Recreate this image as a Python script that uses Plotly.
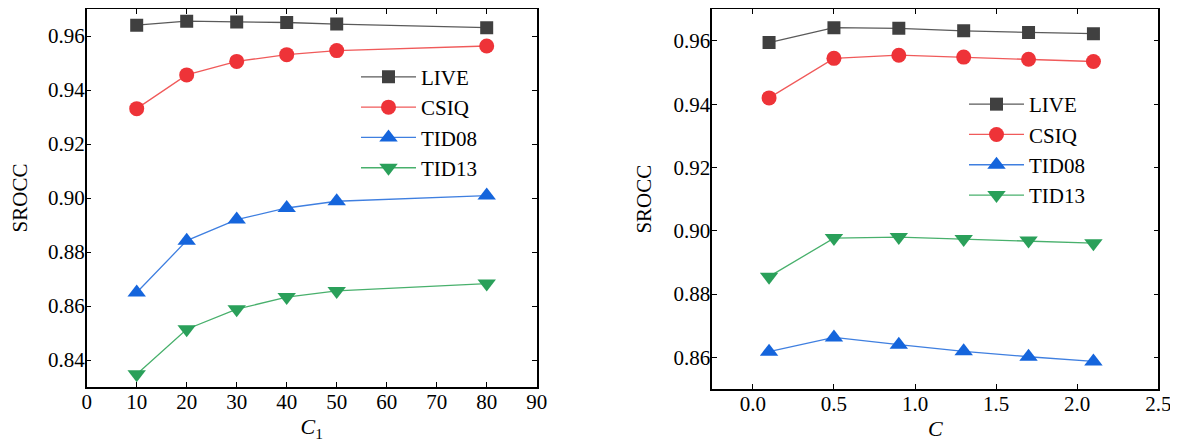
import plotly.graph_objects as go

# ---- data ----
series_names = ["LIVE", "CSIQ", "TID08", "TID13"]

c1_values = [10, 20, 30, 40, 50, 80]
left_live = [0.9640, 0.9655, 0.9652, 0.9650, 0.9644, 0.9631]
left_csiq = [0.9331, 0.9456, 0.9506, 0.9531, 0.9546, 0.9563]
left_tid08 = [0.8650, 0.8842, 0.8920, 0.8963, 0.8988, 0.9009]
left_tid13 = [0.8347, 0.8514, 0.8588, 0.8633, 0.8656, 0.8683]

c_values = [0.1, 0.5, 0.9, 1.3, 1.7, 2.1]
right_live = [0.9595, 0.9642, 0.9640, 0.9632, 0.9627, 0.9623]
right_csiq = [0.9420, 0.9545, 0.9555, 0.9549, 0.9542, 0.9535]
right_tid08 = [0.8618, 0.8663, 0.8640, 0.8619, 0.8602, 0.8587]
right_tid13 = [0.8855, 0.8977, 0.8980, 0.8974, 0.8969, 0.8961]

# ---- styles ----
marker_colors = ["#404040", "#ee3338", "#1565dc", "#2aa05a"]
line_colors = ["#5a5a5a", "#f05a5a", "#3f7fe0", "#48b06c"]
symbols = ["square", "circle", "triangle-up", "triangle-down"]
sizes = [13, 15, 16, 16]

FONT = "'Liberation Serif', 'Times New Roman', serif"

# page body adds an 8px margin; figure is sized so it fills the window
W, H = 1170, 435
OFF = 8


def px_x(v):
    return (v - OFF) / W


def px_y(v):
    return 1 - (v - OFF) / H


fig = go.Figure()

left_data = [left_live, left_csiq, left_tid08, left_tid13]
right_data = [right_live, right_csiq, right_tid08, right_tid13]

for i, name in enumerate(series_names):
    fig.add_trace(go.Scatter(
        x=c1_values, y=left_data[i], name=name, mode="lines+markers",
        line=dict(color=line_colors[i], width=1.3),
        marker=dict(color=marker_colors[i], symbol=symbols[i], size=sizes[i],
                    line=dict(width=0)),
        xaxis="x", yaxis="y", legend="legend",
    ))
for i, name in enumerate(series_names):
    fig.add_trace(go.Scatter(
        x=c_values, y=right_data[i], name=name, mode="lines+markers",
        line=dict(color=line_colors[i], width=1.3),
        marker=dict(color=marker_colors[i], symbol=symbols[i], size=sizes[i],
                    line=dict(width=0)),
        xaxis="x2", yaxis="y2", legend="legend2",
    ))

axis_common = dict(
    showline=True, linecolor="black", linewidth=1.5, mirror="allticks",
    ticks="inside", ticklen=5, tickwidth=1.2, tickcolor="black",
    showgrid=False, zeroline=False,
    tickfont=dict(family=FONT, size=21, color="black"),
)

fig.update_layout(
    width=W, height=H,
    margin=dict(l=0, r=0, t=0, b=0),
    paper_bgcolor="white", plot_bgcolor="white",
    font=dict(family=FONT, size=21, color="black"),
    xaxis=dict(domain=[px_x(86.7), px_x(536.7)], range=[0, 90], dtick=10, tick0=0,
               anchor="y", automargin=False, ticklabelstandoff=-5,
               title=dict(text="<i>C</i><sub>1</sub>", standoff=6,
                          font=dict(family=FONT, size=22)),
               **axis_common),
    yaxis=dict(domain=[px_y(387), px_y(9)], range=[0.83, 0.97], dtick=0.02, tick0=0.84,
               tickformat=".2f", anchor="x", automargin=False, ticklabelstandoff=-4,
               title=dict(text="SROCC", standoff=16, font=dict(family=FONT, size=21)),
               **axis_common),
    xaxis2=dict(domain=[px_x(712.3), px_x(1158.3)], range=[-0.25, 2.5], dtick=0.5, tick0=0,
                tickformat=".1f", anchor="y2", automargin=False, ticklabelstandoff=-5,
                title=dict(text="<i>C</i>", standoff=6, font=dict(family=FONT, size=22)),
                **axis_common),
    yaxis2=dict(domain=[px_y(389), px_y(9.3)], range=[0.85, 0.97], dtick=0.02, tick0=0.86,
                tickformat=".2f", anchor="x2", automargin=False, ticklabelstandoff=-4,
                title=dict(text="SROCC", standoff=16, font=dict(family=FONT, size=21)),
                **axis_common),
    legend=dict(x=px_x(356), y=px_y(56.7), xanchor="left", yanchor="top",
                bgcolor="rgba(0,0,0,0)", font=dict(family=FONT, size=21),
                itemwidth=55, tracegroupgap=0),
    legend2=dict(x=px_x(964), y=px_y(84), xanchor="left", yanchor="top",
                 bgcolor="rgba(0,0,0,0)", font=dict(family=FONT, size=21),
                 itemwidth=55, tracegroupgap=0),
)

fig.write_html("out.html")
